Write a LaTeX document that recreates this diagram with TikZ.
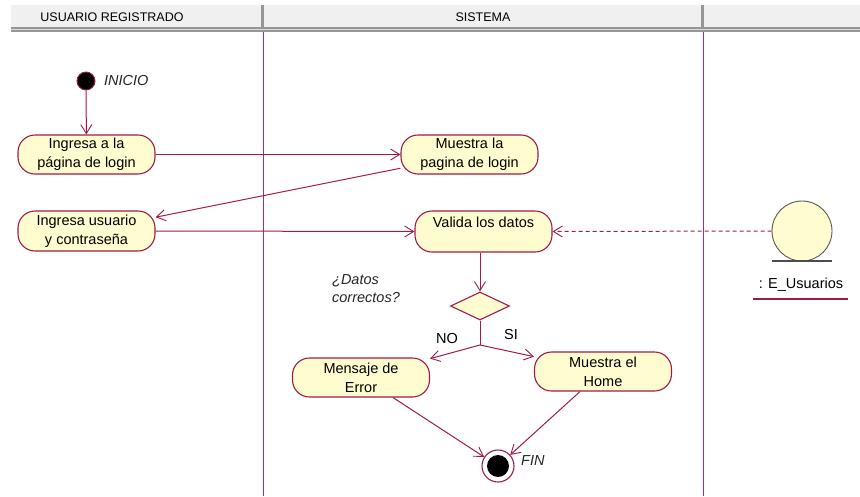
\documentclass[tikz,border=0pt]{standalone}
\usepackage{fontspec}
\setmainfont{Liberation Sans}
\usetikzlibrary{arrows.meta,shapes.geometric}
\definecolor{lineM}{RGB}{160,28,72}
\definecolor{laneM}{RGB}{185,40,95}
\definecolor{nodeFill}{RGB}{255,252,208}
\definecolor{hdrFill}{RGB}{240,240,240}
\definecolor{hdrLine}{RGB}{150,150,150}
\tikzset{
  act/.style={draw=lineM, line width=1.1pt, fill=nodeFill, rounded corners=17pt,
    minimum width=137pt, minimum height=39pt, inner sep=0pt, align=center,
    font=\fontsize{14.5}{19}\selectfont},
  flow/.style={draw=lineM, line width=1pt, -{Straight Barb[length=9pt,width=11pt,line width=0.9pt]}},
  plainflow/.style={draw=lineM, line width=1pt},
  lbl/.style={font=\fontsize{14.5}{18}\selectfont, inner sep=0pt},
  ilbl/.style={font=\fontsize{14.5}{18}\selectfont\itshape, inner sep=0pt, text=black!85},
  hdr/.style={font=\fontsize{12.5}{14}\selectfont, inner sep=0pt},
}
\begin{document}
\begin{tikzpicture}[x=1pt,y=-1pt]
\useasboundingbox (0,0) rectangle (860,496);
\fill[white] (0,0) rectangle (860,496);
% header
\fill[hdrFill] (11,5) rectangle (860,27);
\fill[hdrLine] (11,27) rectangle (860,32);
\draw[hdrFill!80!gray, line width=1pt] (11,29.5) -- (860,29.5);
\fill[hdrLine] (261,5) rectangle (264,27);
\fill[hdrLine] (701,5) rectangle (704,27);
\node[hdr] (h1) at (112,17) {USUARIO REGISTRADO};
\node[hdr] (h2) at (483,17) {SISTEMA};
% lanes
\draw[laneM, line width=0.9pt] (263,32) -- (263,496);
\draw[laneM, line width=0.9pt] (703,32) -- (703,496);
% nodes
\node[circle, fill=black, draw=lineM, line width=0.9pt, minimum size=18pt, inner sep=0pt] (start) at (86,81) {};
\node[ilbl, anchor=west] (inicio) at (104,81) {INICIO};
\node[act] (n1) at (86.5,154.5) {Ingresa a la\\página de login};
\node[act] (n2) at (469.5,154.5) {Muestra la\\pagina de login};
\node[act, minimum height=40pt] (n3) at (86.5,231) {Ingresa usuario\\y contraseña};
\node[act, minimum height=41pt] (n4) at (483.5,231.5) {Valida los datos\\\mbox{}};
\node[circle, draw=black!65, line width=0.9pt, fill=nodeFill, minimum size=60pt, inner sep=0pt] (eu) at (802,231) {};
\draw[black!70, line width=1.3pt] (772,261) -- (832,261);
\node[lbl] (eul) at (801,285) {: E\_Usuarios};
\draw[lineM, line width=1.2pt] (753,299) -- (848,299);
\node[diamond, draw=lineM, line width=1.1pt, fill=nodeFill, minimum width=59pt, minimum height=28pt, inner sep=0pt] (dia) at (480,306) {};
\node[ilbl, align=left] (q) at (366,289) {¿Datos\\correctos?};
\coordinate (br) at (480,345);
\node[lbl] (no) at (447,339) {NO};
\node[lbl] (si) at (511,335) {SI};
\node[act] (err) at (361,377.5) {Mensaje de\\Error};
\node[act] (home) at (603,371.5) {Muestra el\\Home};
\node[circle, draw=lineM, line width=1.1pt, fill=white, minimum size=32pt, inner sep=0pt] (fin) at (498,466) {};
\node[circle, fill=black, minimum size=22pt, inner sep=0pt] (fininner) at (fin) {};
\node[ilbl, anchor=west] (finl) at (521,461) {FIN};
% connectors
\draw[flow] (start) -- (n1);
\draw[flow] (n1.east) -- (n2.west);
\draw[flow] (n2) -- (n3);
\draw[flow] (n3.east) -- (n4.west);
\draw[flow, dashed, dash pattern=on 4pt off 3pt] (eu.west) -- (n4.east);
\draw[flow] (dia.north |- n4.south) -- (dia.north);
\draw[plainflow] (dia.south) -- (br);
\draw[flow] (br) -- (err);
\draw[flow] (br) -- (home);
\draw[flow] ([xshift=32pt]err.south) -- (fin);
\draw[flow] ([xshift=-23pt]home.south) -- (fin);
\end{tikzpicture}
\end{document}
